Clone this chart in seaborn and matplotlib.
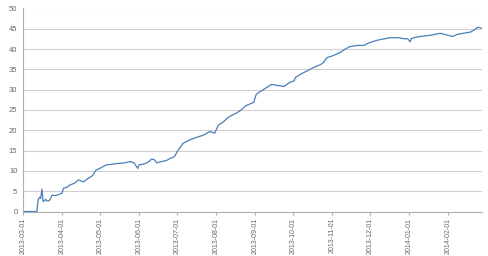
import matplotlib
matplotlib.use("Agg")
import matplotlib.pyplot as plt
import seaborn as sns
import pandas as pd

dates = [
    "2013-03-01", "2013-03-12", "2013-03-13", "2013-03-14", "2013-03-15", "2013-03-16",
    "2013-03-17", "2013-03-19", "2013-03-20", "2013-03-22", "2013-03-24", "2013-03-27",
    "2013-03-30", "2013-04-01", "2013-04-02", "2013-04-05", "2013-04-07", "2013-04-11",
    "2013-04-14", "2013-04-18", "2013-04-22", "2013-04-25", "2013-04-28", "2013-05-02",
    "2013-05-06", "2013-05-10", "2013-05-14", "2013-05-17", "2013-05-21", "2013-05-25",
    "2013-05-28", "2013-05-31", "2013-06-01", "2013-06-05", "2013-06-08", "2013-06-11",
    "2013-06-13", "2013-06-15", "2013-06-19", "2013-06-23", "2013-06-26", "2013-06-29",
    "2013-07-02", "2013-07-06", "2013-07-11", "2013-07-16", "2013-07-22", "2013-07-27",
    "2013-07-31", "2013-08-03", "2013-08-07", "2013-08-10", "2013-08-13", "2013-08-17",
    "2013-08-20", "2013-08-25", "2013-08-31", "2013-09-02", "2013-09-06", "2013-09-10",
    "2013-09-14", "2013-09-18", "2013-09-24", "2013-09-28", "2013-10-02", "2013-10-03",
    "2013-10-07", "2013-10-12", "2013-10-17", "2013-10-23", "2013-10-25", "2013-10-28",
    "2013-11-02", "2013-11-07", "2013-11-11", "2013-11-15", "2013-11-21", "2013-11-26",
    "2013-12-01", "2013-12-07", "2013-12-12", "2013-12-17", "2013-12-24", "2013-12-29",
    "2013-12-31", "2014-01-02", "2014-01-03", "2014-01-05", "2014-01-10", "2014-01-18",
    "2014-01-26", "2014-01-31", "2014-02-05", "2014-02-08", "2014-02-15", "2014-02-19",
    "2014-02-22", "2014-02-25", "2014-02-28",
]
values = [
    0.0, 0.0, 2.8, 3.5, 3.2, 5.5,
    2.4, 3.0, 2.6, 2.7, 4.0, 3.9,
    4.3, 4.5, 5.7, 6.0, 6.5, 7.0,
    7.8, 7.3, 8.2, 8.8, 10.2, 10.8,
    11.5, 11.6, 11.8, 11.9, 12.0, 12.3,
    12.0, 10.6, 11.5, 11.7, 12.1, 12.9,
    12.8, 12.0, 12.3, 12.6, 13.1, 13.5,
    15.1, 16.8, 17.6, 18.2, 18.8, 19.7,
    19.3, 21.3, 22.1, 23.0, 23.6, 24.2,
    24.8, 26.1, 26.9, 28.9, 29.7, 30.5,
    31.3, 31.1, 30.8, 31.7, 32.2, 33.0,
    33.8, 34.6, 35.4, 36.2, 36.6, 37.9,
    38.4, 39.1, 39.9, 40.6, 40.9, 40.9,
    41.6, 42.2, 42.5, 42.8, 42.8, 42.5,
    42.6, 41.8, 42.6, 42.8, 43.1, 43.4,
    43.9, 43.5, 43.1, 43.6, 44.0, 44.2,
    44.8, 45.4, 45.1,
]
tick_labels = [
    "2013-03-01", "2013-04-01", "2013-05-01", "2013-06-01", "2013-07-01", "2013-08-01",
    "2013-09-01", "2013-10-01", "2013-11-01", "2013-12-01", "2014-01-01", "2014-02-01",
]
y_ticks = [0, 5, 10, 15, 20, 25, 30, 35, 40, 45, 50]

sns.set_style("white")
plt.rcParams["font.family"] = ["Liberation Sans", "DejaVu Sans"]

df = pd.DataFrame({"date": pd.to_datetime(dates), "value": values})

fig = plt.figure(figsize=(4.89, 2.56), dpi=100)
ax = fig.add_axes([23 / 489, 44.5 / 256, (482 - 23) / 489, (211.5 - 8.5) / 256])

sns.lineplot(data=df, x="date", y="value", ax=ax, color="#4a7ebb", linewidth=0.9)

ax.set_ylim(0, 50)
ax.set_xlim(pd.Timestamp("2013-03-01"), pd.Timestamp("2014-02-28"))
ax.set_yticks(y_ticks)
ax.set_yticklabels([str(v) for v in y_ticks], fontsize=5.5, color="#666666")
ax.set_xticks(pd.to_datetime(tick_labels))
ax.set_xticklabels(tick_labels, rotation=90, fontsize=5, color="#666666")
ax.set_xlabel("")
ax.set_ylabel("")

ax.grid(axis="y", color="#d0d0d0", linewidth=0.8)
ax.set_axisbelow(True)
for s in ["top", "right"]:
    ax.spines[s].set_visible(False)
for s in ["left", "bottom"]:
    ax.spines[s].set_color("#b0b0b0")
    ax.spines[s].set_linewidth(0.8)
ax.tick_params(axis="x", length=2.5, color="#b0b0b0", pad=2, bottom=True)
ax.tick_params(axis="y", length=0, pad=4)

fig.savefig("out.png", dpi=100)
